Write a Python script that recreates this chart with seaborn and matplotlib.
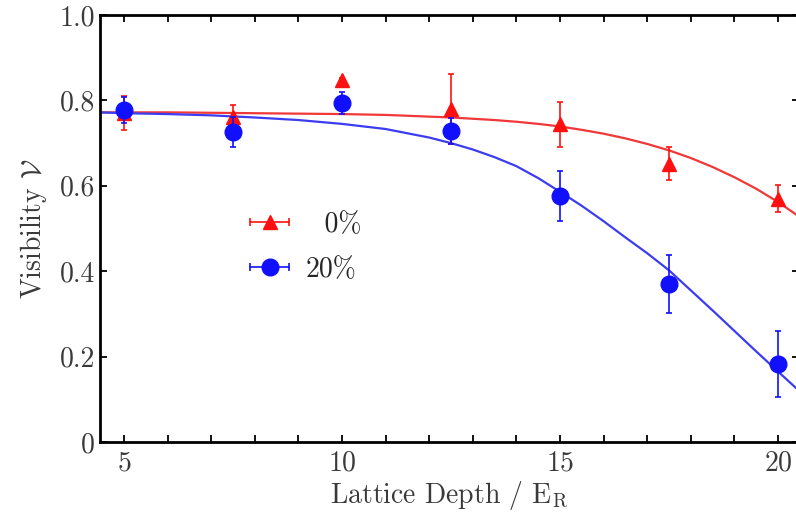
import pandas as pd
import seaborn as sns
import matplotlib.pyplot as plt
from matplotlib.lines import Line2D
from matplotlib.ticker import MultipleLocator, FixedLocator, FixedFormatter
from matplotlib.legend_handler import HandlerLine2D, HandlerTuple

# measured points
depth = [5, 7.5, 10, 12.5, 15, 17.5, 20]
vis_0 = [0.770, 0.760, 0.848, 0.779, 0.744, 0.652, 0.570]
err_0 = [0.040, 0.030, 0.004, 0.082, 0.052, 0.038, 0.032]
vis_20 = [0.778, 0.726, 0.794, 0.729, 0.576, 0.370, 0.183]
err_20 = [0.030, 0.035, 0.025, 0.030, 0.059, 0.068, 0.078]

# fit curves
fit_x = [4.45, 5, 6, 7, 8, 9, 10, 11, 12, 12.5, 13, 13.5, 14, 14.5, 15, 15.5, 16,
         16.5, 17, 17.5, 18, 18.5, 19, 19.5, 20, 20.48]
fit_0 = [0.772, 0.772, 0.772, 0.771, 0.770, 0.769, 0.768, 0.766, 0.762, 0.760, 0.757,
         0.754, 0.750, 0.745, 0.739, 0.731, 0.722, 0.711, 0.698, 0.683, 0.665, 0.644,
         0.620, 0.593, 0.562, 0.528]
fit_20 = [0.772, 0.770, 0.768, 0.765, 0.760, 0.754, 0.745, 0.733, 0.713, 0.700, 0.685,
          0.667, 0.646, 0.618, 0.586, 0.553, 0.517, 0.479, 0.442, 0.402, 0.355, 0.308,
          0.260, 0.212, 0.165, 0.120]

y_ticks = [0, 0.2, 0.4, 0.6, 0.8, 1.0]
y_labels = ["0", "0.2", "0.4", "0.6", "0.8", "1.0"]
x_ticks = [5, 10, 15, 20]

fits = pd.DataFrame({"depth": fit_x + fit_x,
                     "vis": fit_0 + fit_20,
                     "group": ["0%"] * len(fit_x) + ["20%"] * len(fit_x)})

sns.set_theme(style="ticks")
plt.rcParams["font.family"] = ["cmr10", "DejaVu Serif"]
plt.rcParams["mathtext.fontset"] = "cm"
plt.rcParams["axes.unicode_minus"] = False
plt.rcParams["axes.formatter.use_mathtext"] = True

red = "#ff1010"
blue = "#1010ff"
txt = "#3a3a3a"
fs = 20

fig = plt.figure(figsize=(7.96, 5.15), dpi=100)
ax = fig.add_axes([100 / 796, 1 - 442 / 515, 699 / 796, 427 / 515])

sns.lineplot(data=fits, x="depth", y="vis", hue="group", palette=["#f03838", "#3c3cf0"],
             linewidth=1.6, ax=ax, legend=False, sort=False)

ax.errorbar(depth, vis_0, yerr=err_0, fmt="^", color=red, ms=10, elinewidth=1.2,
            capsize=2.5, capthick=1.2, zorder=3)
ax.errorbar(depth, vis_20, yerr=err_20, fmt="o", color=blue, ms=12, elinewidth=1.2,
            capsize=2.5, capthick=1.2, zorder=4)

ax.set_xlim(4.45, 20.48)
ax.set_ylim(0, 1.0)
ax.xaxis.set_major_locator(FixedLocator(x_ticks))
ax.xaxis.set_minor_locator(MultipleLocator(1))
ax.yaxis.set_major_locator(FixedLocator(y_ticks))
ax.yaxis.set_major_formatter(FixedFormatter(y_labels))
ax.tick_params(which="both", direction="in", top=True, right=True, length=5, width=1.3,
               labelsize=fs, color="black", labelcolor=txt)
ax.tick_params(axis="x", pad=6)
for s in ax.spines.values():
    s.set_linewidth(2.0)
    s.set_color("black")

ax.set_xlabel(r"Lattice Depth / $\mathrm{E_R}$", fontsize=fs, color=txt, labelpad=2)
ax.set_ylabel(r"Visibility $\mathcal{V}$", fontsize=fs, color=txt, labelpad=8)

# legend handles: horizontal bar with caps and marker in the middle
cap_r = Line2D([], [], color=red, lw=1.2, marker="|", ms=6, mew=1.2)
mk_r = Line2D([], [], color=red, ls="none", marker="^", ms=10)
cap_b = Line2D([], [], color=blue, lw=1.2, marker="|", ms=6, mew=1.2)
mk_b = Line2D([], [], color=blue, ls="none", marker="o", ms=12)
hmap = {cap_r: HandlerLine2D(numpoints=2), cap_b: HandlerLine2D(numpoints=2),
        mk_r: HandlerLine2D(numpoints=1), mk_b: HandlerLine2D(numpoints=1)}
ax.legend([(cap_r, mk_r), (cap_b, mk_b)], ["  0%", "20%"],
          handler_map={tuple: HandlerTuple(ndivide=1, pad=0), **hmap},
          loc="upper left", bbox_to_anchor=(228 / 796, 1 - 198 / 515),
          bbox_transform=fig.transFigure, frameon=False, fontsize=fs,
          handlelength=2.0, handletextpad=0.3, labelspacing=0.65, borderpad=0)

fig.savefig("out.png", dpi=100)
